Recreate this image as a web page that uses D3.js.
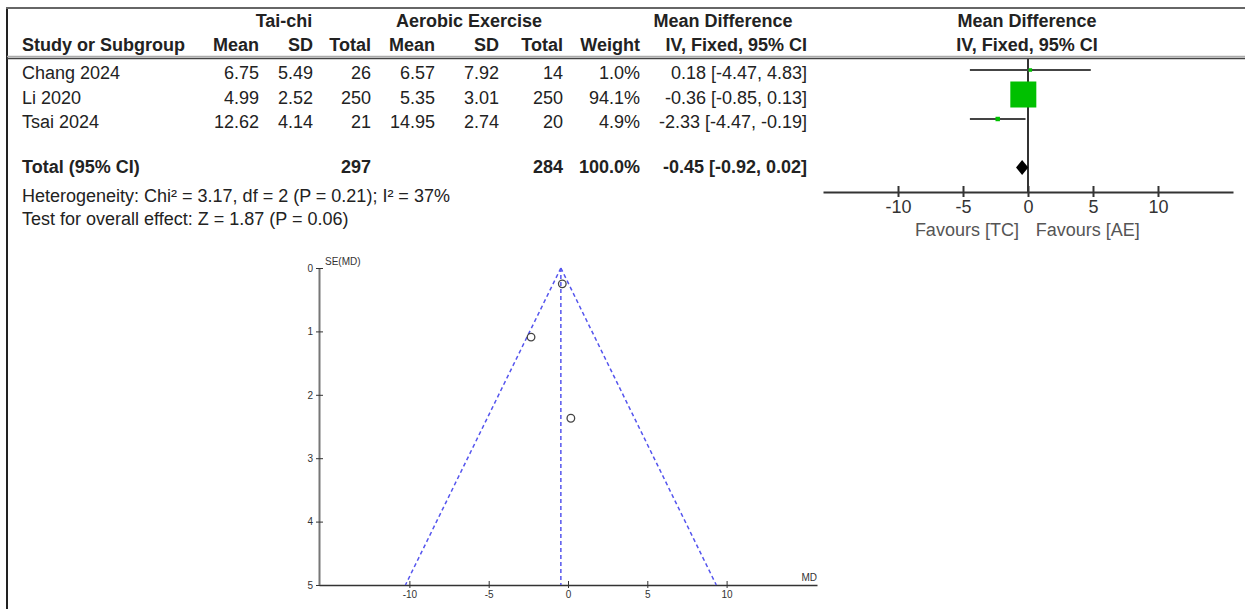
<!DOCTYPE html>
<html>
<head>
<meta charset="utf-8">
<script src="https://cdn.jsdelivr.net/npm/d3@7"></script>
<style>
  body { margin: 0; background: #fff; }
  svg { display: block; font-family: "Liberation Sans", Arial, sans-serif; }
</style>
</head>
<body>
<svg id="chart" width="1245" height="609"></svg>
<script>
// study data
const studies = ["Chang 2024", "Li 2020", "Tsai 2024"];
const tcMean = ["6.75", "4.99", "12.62"];
const tcSD = ["5.49", "2.52", "4.14"];
const tcN = [26, 250, 21];
const aeMean = ["6.57", "5.35", "14.95"];
const aeSD = ["7.92", "3.01", "2.74"];
const aeN = [14, 250, 20];
const weights = [1.0, 94.1, 4.9];
const md = [0.18, -0.36, -2.33];
const ciLow = [-4.47, -0.85, -4.47];
const ciHigh = [4.83, 0.13, -0.19];
const se = [2.37, 0.25, 1.09];
const pooled = { md: -0.45, lo: -0.92, hi: 0.02, nTC: 297, nAE: 284, weight: "100.0%" };
const forestTicks = [-10, -5, 0, 5, 10];
const funnelXTicks = [-10, -5, 0, 5, 10];
const funnelYTicks = [0, 1, 2, 3, 4, 5];

const svg = d3.select("#chart");

// frame lines
svg.append("line").attr("x1", 7).attr("x2", 7).attr("y1", 8).attr("y2", 609)
  .attr("stroke", "#222").attr("stroke-width", 2);
svg.append("line").attr("x1", 6).attr("x2", 1245).attr("y1", 8).attr("y2", 8)
  .attr("stroke", "#666").attr("stroke-width", 2);
svg.append("line").attr("x1", 7).attr("x2", 1245).attr("y1", 56.5).attr("y2", 56.5)
  .attr("stroke", "#aaa").attr("stroke-width", 1.5);
svg.append("line").attr("x1", 7).attr("x2", 1245).attr("y1", 58.5).attr("y2", 58.5)
  .attr("stroke", "#444").attr("stroke-width", 1.5);

// helper for text
function txt(x, y, s, anchor, bold, size, color) {
  return svg.append("text").attr("x", x).attr("y", y).text(s)
    .attr("text-anchor", anchor || "start")
    .attr("font-weight", bold ? "bold" : "normal")
    .attr("font-size", size || 18)
    .attr("fill", color || "#222");
}

// hyphen instead of unicode minus, like RevMan
const fmt = v => d3.format(".2f")(v).replace("\u2212", "-");
const fmtInt = v => d3.format("d")(v).replace("\u2212", "-");

// headers
txt(284, 27, "Tai-chi", "middle", true);
txt(469, 27, "Aerobic Exercise", "middle", true);
txt(723, 27, "Mean Difference", "middle", true);
txt(1027, 27, "Mean Difference", "middle", true);

const colRight = [259, 313, 371, 435, 499, 563, 640, 807];
const hdr2 = ["Mean", "SD", "Total", "Mean", "SD", "Total", "Weight", "IV, Fixed, 95% CI"];
txt(22, 51, "Study or Subgroup", "start", true);
hdr2.forEach((h, i) => txt(colRight[i], 51, h, "end", true));
txt(1027, 51, "IV, Fixed, 95% CI", "middle", true);

// rows
const rowY = d3.scalePoint().domain(studies).range([79, 128]);
studies.forEach((s, i) => {
  const y = rowY(s);
  txt(22, y, s);
  const cells = [tcMean[i], tcSD[i], tcN[i], aeMean[i], aeSD[i], aeN[i],
    d3.format(".1f")(weights[i]) + "%",
    `${fmt(md[i])} [${fmt(ciLow[i])}, ${fmt(ciHigh[i])}]`];
  cells.forEach((c, j) => txt(colRight[j], y, c, "end"));
});

// total row
txt(22, 173, "Total (95% CI)", "start", true);
txt(colRight[2], 173, pooled.nTC, "end", true);
txt(colRight[5], 173, pooled.nAE, "end", true);
txt(colRight[6], 173, pooled.weight, "end", true);
txt(colRight[7], 173, `${fmt(pooled.md)} [${fmt(pooled.lo)}, ${fmt(pooled.hi)}]`, "end", true);
txt(22, 202, "Heterogeneity: Chi\u00b2 = 3.17, df = 2 (P = 0.21); I\u00b2 = 37%");
txt(22, 225, "Test for overall effect: Z = 1.87 (P = 0.06)");

// forest plot
const fx = d3.scaleLinear().domain([-15.77, 15.77]).range([823, 1233]);
const axisY = 192;
const sizeScale = d3.scaleSqrt().domain([0, d3.max(weights)]).range([0, 26]);

svg.append("line").attr("x1", fx(0)).attr("x2", fx(0)).attr("y1", 59).attr("y2", axisY)
  .attr("stroke", "#333").attr("stroke-width", 2);

const fAxis = svg.append("g").attr("transform", `translate(0,${axisY})`)
  .call(d3.axisBottom(fx).tickValues(forestTicks).tickSize(0).tickPadding(10).tickFormat(fmtInt));
fAxis.select(".domain").attr("stroke", "#333").attr("stroke-width", 2);
fAxis.selectAll(".tick text").attr("font-size", 18).attr("fill", "#333")
  .attr("font-family", "Liberation Sans, Arial, sans-serif").attr("dy", "0.6em");
fAxis.selectAll(".tick").append("line").attr("y1", -6).attr("y2", 5)
  .attr("stroke", "#333").attr("stroke-width", 2);

studies.forEach((s, i) => {
  const y = rowY(s) - 9;
  svg.append("line").attr("x1", fx(ciLow[i])).attr("x2", fx(ciHigh[i]))
    .attr("y1", y).attr("y2", y).attr("stroke", "#444").attr("stroke-width", 2);
  const sz = Math.max(3.5, sizeScale(weights[i]) * (weights[i] < 10 ? 0.75 : 1));
  svg.append("rect").attr("x", fx(md[i]) - sz / 2).attr("y", y - sz / 2)
    .attr("width", sz).attr("height", sz).attr("fill", "#00c000");
});

const dy = 167.5;
svg.append("path")
  .attr("d", `M${fx(pooled.lo)},${dy} L${fx(pooled.md)},${dy - 7.5} L${fx(pooled.hi)},${dy} L${fx(pooled.md)},${dy + 7.5} Z`)
  .attr("fill", "#000");

txt(fx(-4.7), 236, "Favours [TC]", "middle", false, 18, "#555");
txt(fx(4.6), 236, "Favours [AE]", "middle", false, 18, "#555");

// funnel plot
const gx = d3.scaleLinear().domain([-15.7, 15.7]).range([319, 817]);
const gy = d3.scaleLinear().domain([0, 5]).range([268, 585]);

const xAx = svg.append("g").attr("transform", `translate(0,${gy(5)})`)
  .call(d3.axisBottom(gx).tickValues(funnelXTicks).tickSize(0).tickPadding(4).tickFormat(fmtInt));
xAx.select(".domain").attr("stroke", "#333").attr("stroke-width", 1.5);
xAx.selectAll(".tick").append("line").attr("y1", -4).attr("y2", 3).attr("stroke", "#333");
xAx.selectAll(".tick text").attr("font-size", 10).attr("fill", "#333")
  .attr("font-family", "Liberation Sans, Arial, sans-serif").attr("dy", "0.9em");

const yAx = svg.append("g").attr("transform", `translate(${gx.range()[0]},0)`)
  .call(d3.axisLeft(gy).tickValues(funnelYTicks).tickSize(0).tickPadding(6).tickFormat(fmtInt));
yAx.select(".domain").attr("stroke", "#777").attr("stroke-width", 2);
yAx.selectAll(".tick").append("line").attr("x1", -3).attr("x2", 4).attr("stroke", "#333");
yAx.selectAll(".tick text").attr("font-size", 10).attr("fill", "#333")
  .attr("font-family", "Liberation Sans, Arial, sans-serif");

txt(325, 265, "SE(MD)", "start", false, 10, "#333");
txt(817, 581, "MD", "end", false, 10, "#333");

const dashColor = "#5555ee";
const seMax = 5;
[[pooled.md, 0, pooled.md, seMax],
 [pooled.md, 0, pooled.md - 1.96 * seMax, seMax],
 [pooled.md, 0, pooled.md + 1.96 * seMax, seMax]].forEach(l => {
  svg.append("line").attr("x1", gx(l[0])).attr("y1", gy(l[1]))
    .attr("x2", gx(l[2])).attr("y2", gy(l[3]))
    .attr("stroke", dashColor).attr("stroke-width", 1.5).attr("stroke-dasharray", "4,3");
});

svg.selectAll("circle.study").data(md).join("circle").attr("class", "study")
  .attr("cx", (d, i) => gx(d)).attr("cy", (d, i) => gy(se[i])).attr("r", 3.8)
  .attr("fill", "none").attr("stroke", "#444").attr("stroke-width", 1.3);
</script>
</body>
</html>
